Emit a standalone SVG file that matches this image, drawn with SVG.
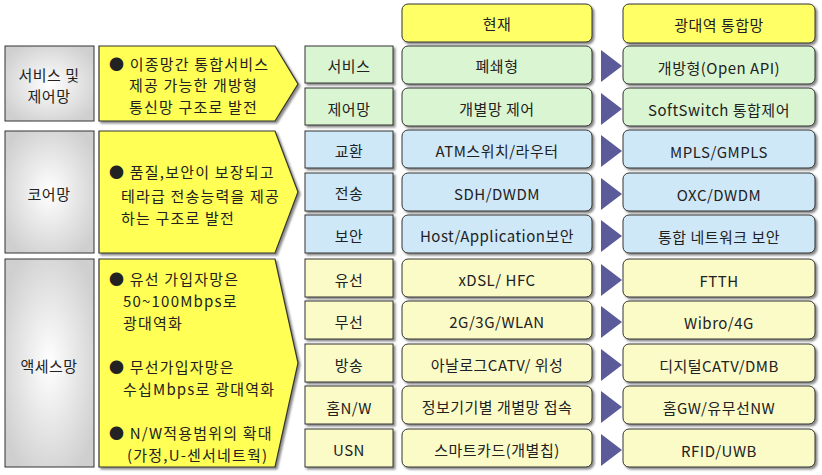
<svg xmlns="http://www.w3.org/2000/svg" width="822" height="475" viewBox="0 0 822 475">
<defs>
<radialGradient id="gg" cx="0.5" cy="0.5" r="0.6"><stop offset="0" stop-color="#ffffff"/><stop offset="1" stop-color="#cfcfcf"/></radialGradient>
<filter id="sh" x="-5%" y="-5%" width="115%" height="125%"><feDropShadow dx="2" dy="2" stdDeviation="0.8" flood-color="#555" flood-opacity="0.7"/></filter>
</defs>
<style>
text{font-family:"Noto Sans CJK KR","Noto Sans",sans-serif;font-size:15px;fill:#222;text-anchor:middle;dominant-baseline:central;letter-spacing:0.5px}
.l{text-anchor:start;letter-spacing:1.2px}
.g{fill:url(#gg);stroke:#333;stroke-width:1}
.p{fill:#ffff55;stroke:#333;stroke-width:1.2;filter:url(#sh)}
.hd{fill:#ffff66;stroke:#333;stroke-width:1;filter:url(#sh)}
.gr{fill:#d9f5d2;stroke:#333;stroke-width:1;filter:url(#sh)}
.bl{fill:#cfe8f8;stroke:#333;stroke-width:1;filter:url(#sh)}
.yl{fill:#fbfbc8;stroke:#333;stroke-width:1;filter:url(#sh)}
.tr{fill:#5b5b9a}
</style>
<rect width="822" height="475" fill="#fff"/>
<g id="headers">
<rect class="hd" x="402" y="4" width="190" height="38" rx="6"/><text x="497" y="23">현재</text>
<rect class="hd" x="623" y="4" width="192" height="39" rx="6"/><text x="719" y="24">광대역 통합망</text>
</g>
<g id="left">
<rect class="g" x="5" y="46" width="89" height="75"/><text x="49" y="74">서비스 및</text><text x="49" y="95">제어망</text>
<rect class="g" x="5" y="131" width="89" height="122"/><text x="49" y="193">코어망</text>
<rect class="g" x="5" y="259" width="89" height="208"/><text x="49" y="365">액세스망</text>
</g>
<g id="pent">
<polygon class="p" points="99,46 275,46 298,84 275,121 99,121"/>
<text class="l" x="109" y="63">● 이종망간 통합서비스</text>
<text class="l" x="129" y="84">제공 가능한 개방형</text>
<text class="l" x="129" y="106">통신망 구조로 발전</text>
<polygon class="p" points="99,131 275,131 298,192 275,253 99,253"/>
<text class="l" x="109" y="171">● 품질,보안이 보장되고</text>
<text class="l" x="121" y="195">테라급 전송능력을 제공</text>
<text class="l" x="121" y="217">하는 구조로 발전</text>
<polygon class="p" points="99,259 275,259 298,363 275,467 99,467"/>
<text class="l" x="109" y="278">● 유선 가입자망은</text>
<text class="l" x="123" y="300">50~100Mbps로</text>
<text class="l" x="123" y="322">광대역화</text>
<text class="l" x="109" y="366">● 무선가입자망은</text>
<text class="l" x="123" y="388">수십Mbps로 광대역화</text>
<text class="l" x="109" y="432">● N/W적용범위의 확대</text>
<text class="l" x="127" y="454">(가정,U-센서네트웍)</text>
</g>
<g id="rows">
<rect class="gr" x="305" y="46" width="88" height="37"/><text x="349" y="65">서비스</text>
<rect class="gr" x="402" y="46" width="190" height="38" rx="6"/><text x="497" y="65">폐쇄형</text>
<rect class="gr" x="623" y="46" width="192" height="38" rx="6"/><text x="719" y="67">개방형(Open API)</text>
<rect class="gr" x="305" y="88" width="88" height="37"/><text x="349" y="108">제어망</text>
<rect class="gr" x="402" y="88" width="190" height="38" rx="6"/><text x="497" y="108">개별망 제어</text>
<rect class="gr" x="623" y="88" width="192" height="38" rx="6"/><text x="719" y="109">SoftSwitch 통합제어</text>
<rect class="bl" x="305" y="131" width="88" height="37"/><text x="349" y="150">교환</text>
<rect class="bl" x="402" y="130" width="190" height="38" rx="6"/><text x="497" y="150">ATM스위치/라우터</text>
<rect class="bl" x="623" y="130" width="192" height="38" rx="6"/><text x="719" y="151">MPLS/GMPLS</text>
<rect class="bl" x="305" y="173" width="88" height="38"/><text x="349" y="192">전송</text>
<rect class="bl" x="402" y="173" width="190" height="38" rx="6"/><text x="497" y="193">SDH/DWDM</text>
<rect class="bl" x="623" y="173" width="192" height="38" rx="6"/><text x="719" y="194">OXC/DWDM</text>
<rect class="bl" x="305" y="215" width="88" height="38"/><text x="349" y="235">보안</text>
<rect class="bl" x="402" y="215" width="190" height="38" rx="6"/><text x="497" y="235">Host/Application보안</text>
<rect class="bl" x="623" y="215" width="192" height="38" rx="6"/><text x="719" y="236">통합 네트워크 보안</text>
<rect class="yl" x="305" y="259" width="88" height="38"/><text x="349" y="279">유선</text>
<rect class="yl" x="402" y="259" width="190" height="38" rx="6"/><text x="497" y="279">xDSL/ HFC</text>
<rect class="yl" x="623" y="259" width="192" height="38" rx="6"/><text x="719" y="280">FTTH</text>
<rect class="yl" x="305" y="301" width="88" height="38"/><text x="349" y="321">무선</text>
<rect class="yl" x="402" y="301" width="190" height="38" rx="6"/><text x="497" y="321">2G/3G/WLAN</text>
<rect class="yl" x="623" y="301" width="192" height="38" rx="6"/><text x="719" y="322">Wibro/4G</text>
<rect class="yl" x="305" y="344" width="88" height="38"/><text x="349" y="364">방송</text>
<rect class="yl" x="402" y="344" width="190" height="38" rx="6"/><text x="497" y="364">아날로그CATV/ 위성</text>
<rect class="yl" x="623" y="344" width="192" height="38" rx="6"/><text x="719" y="365">디지털CATV/DMB</text>
<rect class="yl" x="305" y="386" width="88" height="38"/><text x="349" y="407">홈N/W</text>
<rect class="yl" x="402" y="386" width="190" height="38" rx="6"/><text x="497" y="406">정보기기별 개별망 접속</text>
<rect class="yl" x="623" y="386" width="192" height="38" rx="6"/><text x="719" y="407">홈GW/유무선NW</text>
<rect class="yl" x="305" y="429" width="88" height="38"/><text x="349" y="449">USN</text>
<rect class="yl" x="402" y="429" width="190" height="38" rx="6"/><text x="497" y="449">스마트카드(개별칩)</text>
<rect class="yl" x="623" y="429" width="192" height="38" rx="6"/><text x="719" y="450">RFID/UWB</text>
</g>
<g id="connectors">
<polygon class="tr" points="601,50 622,66 601,82"/>
<polygon class="tr" points="601,93 622,109 601,125"/>
<polygon class="tr" points="601,135 622,151 601,167"/>
<polygon class="tr" points="601,178 622,194 601,210"/>
<polygon class="tr" points="601,220 622,236 601,252"/>
<polygon class="tr" points="601,264 622,280 601,296"/>
<polygon class="tr" points="601,306 622,322 601,338"/>
<polygon class="tr" points="601,349 622,365 601,381"/>
<polygon class="tr" points="601,391 622,407 601,423"/>
<polygon class="tr" points="601,434 622,450 601,466"/>
</g>
</svg>
